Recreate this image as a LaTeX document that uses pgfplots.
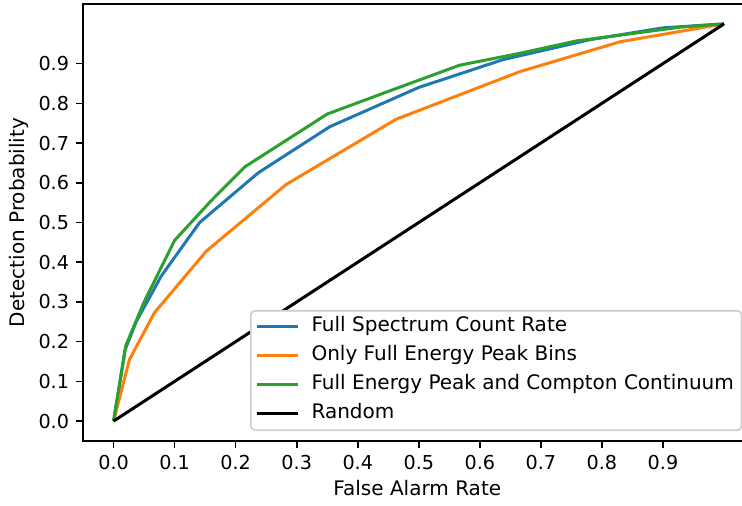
\documentclass[border=0pt]{standalone}
\usepackage{fontspec}
\setmainfont{DejaVu Sans}
\usepackage{pgfplots}
\pgfplotsset{compat=1.18}
\definecolor{c1}{HTML}{1F77B4}
\definecolor{c2}{HTML}{FF7F0E}
\definecolor{c3}{HTML}{2CA02C}
\begin{document}
\fontsize{12}{14.4}\selectfont
\begin{tikzpicture}
\begin{axis}[
  name=ax,
  scale only axis,
  width=400.8pt, height=262pt,
  xmin=-0.05, xmax=1.045,
  ymin=-0.05, ymax=1.05,
  xtick={0,0.1,0.2,0.3,0.4,0.5,0.6,0.7,0.8,0.9},
  ytick={0,0.1,0.2,0.3,0.4,0.5,0.6,0.7,0.8,0.9},
  xticklabel style={/pgf/number format/.cd,fixed,fixed zerofill,precision=1,assume math mode=true},
  yticklabel style={/pgf/number format/.cd,fixed,fixed zerofill,precision=1,assume math mode=true},
  tick align=outside,
  tick pos=left,
  major tick length=4.2pt,
  every tick/.style={black, line width=0.96pt},
  axis line style={line width=0.96pt},
  tick label style={font=\fontsize{11.5}{13}\selectfont},
  label style={font=\fontsize{12}{14.4}\selectfont},
  xlabel={False Alarm Rate},
  ylabel={Detection Probability},
  xlabel style={yshift=2pt},
  ylabel style={yshift=-2pt},
  legend cell align=left,
  legend style={at={(1,0)}, anchor=south east, xshift=-5.5pt, yshift=6pt,
    draw=black!20, rounded corners=2.5pt, line width=0.96pt,
    font=\fontsize{12}{14.4}\selectfont,
    row sep=0pt, column sep=5pt, inner xsep=2.6pt, inner ysep=1pt,
    nodes={inner xsep=2pt, inner ysep=2.7pt, text height=9pt, text depth=3pt}},
  legend image code/.code={\draw[#1] (0pt,0pt) -- (25pt,0pt);},
]
\addplot[c1, line width=1.8pt] coordinates {
(0,0) (0.019,0.18) (0.037,0.25) (0.078,0.365) (0.141,0.50) (0.237,0.625)
(0.354,0.741) (0.50,0.84) (0.638,0.91) (0.78,0.96) (0.9,0.99) (1,1)};
\addlegendentry{Full Spectrum Count Rate}
\addplot[c2, line width=1.8pt] coordinates {
(0,0) (0.026,0.155) (0.067,0.273) (0.152,0.428) (0.283,0.596) (0.463,0.76)
(0.666,0.88) (0.83,0.955) (1,1)};
\addlegendentry{Only Full Energy Peak Bins}
\addplot[c3, line width=1.8pt] coordinates {
(0,0) (0.02,0.19) (0.05,0.30) (0.1,0.455) (0.16,0.555) (0.215,0.64)
(0.35,0.773) (0.45,0.83) (0.567,0.896) (0.666,0.926) (0.758,0.957) (0.93,0.992) (1,1)};
\addlegendentry{Full Energy Peak and Compton Continuum}
\addplot[black, line width=1.8pt] coordinates {(0,0) (1,1)};
\addlegendentry{Random}
\end{axis}
\pgfresetboundingbox
\useasboundingbox ([xshift=-49.8pt,yshift=-38.4pt]ax.south west) rectangle ([xshift=-5.7pt,yshift=2.4pt]ax.north east);
\end{tikzpicture}
\end{document}
